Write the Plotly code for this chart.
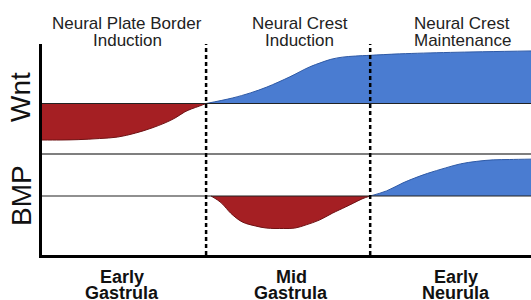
import plotly.graph_objects as go

# ---- data (x = developmental stage units, y = relative signal level) ----
stages = ["Early<br>Gastrula", "Mid<br>Gastrula", "Early<br>Neurula"]
phases = ["Neural Plate Border<br>Induction", "Neural Crest<br>Induction", "Neural Crest<br>Maintenance"]
boundaries = [1.0, 2.0]

wnt_red_x = [0.0, 0.11, 0.22, 0.35, 0.46, 0.57, 0.67, 0.75, 0.81, 0.87, 0.91, 0.96, 1.0]
wnt_red_y = [-1.0, -1.0, -0.99, -0.96, -0.92, -0.81, -0.67, -0.53, -0.40, -0.23, -0.15, -0.07, 0.0]

wnt_blue_x = [1.0, 1.16, 1.27, 1.37, 1.51, 1.63, 1.70, 1.76, 1.83, 1.91, 2.0, 2.18, 2.49, 2.98]
wnt_blue_y = [0.0, 0.15, 0.29, 0.45, 0.73, 1.0, 1.12, 1.21, 1.27, 1.30, 1.32, 1.36, 1.40, 1.44]

bmp_red_x = [1.03, 1.07, 1.10, 1.15, 1.22, 1.30, 1.37, 1.47, 1.54, 1.61, 1.69, 1.77, 1.85, 1.90, 1.95, 2.0]
bmp_red_y = [0.0, -0.11, -0.22, -0.47, -0.71, -0.82, -0.88, -0.89, -0.88, -0.79, -0.66, -0.47, -0.30, -0.19, -0.08, 0.0]

bmp_blue_x = [2.0, 2.10, 2.20, 2.27, 2.35, 2.46, 2.55, 2.65, 2.75, 2.85, 2.98]
bmp_blue_y = [0.0, 0.14, 0.36, 0.49, 0.62, 0.77, 0.88, 0.95, 0.99, 1.0, 1.01]

RED = "#a51f23"
RED_EDGE = "#6e1214"
BLUE = "#4a7cd1"
BLUE_EDGE = "#2f5aa6"
FONT = "Liberation Sans, Arial, sans-serif"

W, H = 531, 300
def pxx(p):
    return p / W
def pxy(p):
    return 1 - p / H

fig = go.Figure()

def area(x, y, color, edge, yaxis):
    fig.add_trace(go.Scatter(
        x=x, y=y, mode="lines", fill="tozeroy", fillcolor=color,
        line=dict(color=edge, width=1, shape="spline", smoothing=1.0),
        yaxis=yaxis, hoverinfo="skip", showlegend=False))

area(wnt_red_x, wnt_red_y, RED, RED_EDGE, "y")
area(wnt_blue_x, wnt_blue_y, BLUE, BLUE_EDGE, "y")
area(bmp_red_x, bmp_red_y, RED, RED_EDGE, "y2")
area(bmp_blue_x, bmp_blue_y, BLUE, BLUE_EDGE, "y2")

unit = 36.5  # px per level unit
wnt_dom = [pxy(154), pxy(44)]
bmp_dom = [pxy(255), pxy(154)]
wnt_range = [-(154 - 103.5) / unit, (103.5 - 44) / unit]
bmp_range = [-(255 - 196) / unit, (196 - 154) / unit]

shapes = []
# baselines
shapes.append(dict(type="line", xref="paper", yref="y", x0=pxx(42), x1=1, y0=0, y1=0,
                   line=dict(color="#222", width=1.2), layer="above"))
shapes.append(dict(type="line", xref="paper", yref="y2", x0=pxx(42), x1=1, y0=0, y1=0,
                   line=dict(color="#222", width=1.2), layer="above"))
# separator between panels
shapes.append(dict(type="line", xref="paper", yref="paper", x0=pxx(42), x1=1,
                   y0=pxy(154), y1=pxy(154), line=dict(color="#555", width=1.5), layer="above"))
# stage boundaries
for b in boundaries:
    shapes.append(dict(type="line", xref="x", yref="paper", x0=b, x1=b,
                       y0=pxy(255), y1=pxy(44),
                       line=dict(color="black", width=2.5, dash="4px,3px"), layer="above"))

ann = []
phase_x = [0.52, 1.57, 2.56]
for px_, txt in zip(phase_x, phases):
    l1, l2 = txt.split("<br>")
    ann.append(dict(x=px_, y=pxy(23.5), xref="x", yref="paper", text=l1, showarrow=False,
                    xanchor="center", yanchor="middle", font=dict(size=17, color="#222", family=FONT)))
    ann.append(dict(x=px_, y=pxy(40.5), xref="x", yref="paper", text=l2, showarrow=False,
                    xanchor="center", yanchor="middle", font=dict(size=17, color="#222", family=FONT)))
stage_x = [0.49, 1.52, 2.52]
for sx, txt in zip(stage_x, stages):
    l1, l2 = txt.split("<br>")
    ann.append(dict(x=sx, y=pxy(276.5), xref="x", yref="paper", text="<b>%s</b>" % l1, showarrow=False,
                    xanchor="center", yanchor="middle", font=dict(size=18, color="#111", family=FONT)))
    ann.append(dict(x=sx, y=pxy(292.5), xref="x", yref="paper", text="<b>%s</b>" % l2, showarrow=False,
                    xanchor="center", yanchor="middle", font=dict(size=18, color="#111", family=FONT)))
for lab, cy in [("Wnt", 97), ("BMP", 196)]:
    ann.append(dict(x=pxx(21), y=pxy(cy), xref="paper", yref="paper", text=lab, showarrow=False,
                    textangle=-90, xanchor="center", yanchor="middle",
                    font=dict(size=28, color="#111", family=FONT)))

fig.update_layout(
    width=W, height=H, margin=dict(l=0, r=0, t=0, b=0, pad=0),
    paper_bgcolor="white", plot_bgcolor="white",
    xaxis=dict(domain=[pxx(42), 1], range=[0, 2.98], showgrid=False, zeroline=False,
               showticklabels=False, ticks="", showline=True, linecolor="black", linewidth=2.5,
               anchor="y2"),
    yaxis=dict(domain=wnt_dom, range=wnt_range, showgrid=False, zeroline=False,
               showticklabels=False, ticks="", showline=True, linecolor="black", linewidth=2.5,
               anchor="x"),
    yaxis2=dict(domain=bmp_dom, range=bmp_range, showgrid=False, zeroline=False,
                showticklabels=False, ticks="", showline=True, linecolor="black", linewidth=2.5,
                anchor="x"),
    shapes=shapes, annotations=ann,
)

fig.write_html("out.html", config={"displayModeBar": False},
               post_script="document.body.style.margin='0';document.body.style.overflow='hidden';")
